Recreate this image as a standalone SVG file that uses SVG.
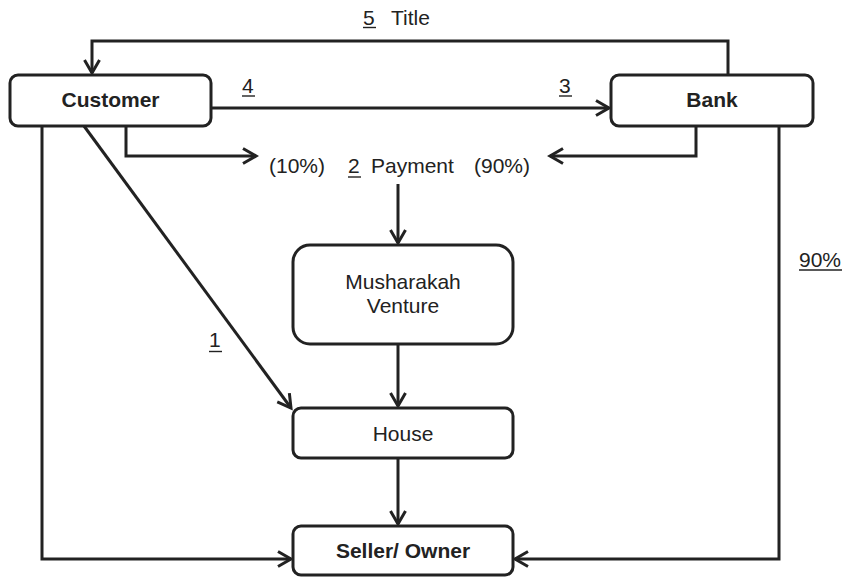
<svg xmlns="http://www.w3.org/2000/svg" width="845" height="577" viewBox="0 0 845 577">
  <style>
    .box { fill: #fff; stroke: #222; stroke-width: 3; }
    .wire { fill: none; stroke: #222; stroke-width: 3; stroke-linejoin: miter; }
    .ul { stroke: #222; stroke-width: 1.4; }
    text { font-family: "Liberation Sans", Arial, sans-serif; font-size: 21px; fill: #222; }
    .b { font-weight: bold; }
    .c { text-anchor: middle; }
  </style>
  <defs>
    <marker id="arr" markerUnits="userSpaceOnUse" markerWidth="20" markerHeight="20" viewBox="-16 -10 18 20" refX="0" refY="0" orient="auto">
      <path d="M-13,-7.5 L0,0 L-13,7.5" fill="none" stroke="#222" stroke-width="3" stroke-linejoin="miter"/>
    </marker>
  </defs>

  <g id="connectors">
    <path class="wire" d="M728,75 V41 H92 V73" marker-end="url(#arr)"/>
    <path class="wire" d="M211,108 H609" marker-end="url(#arr)"/>
    <path class="wire" d="M126,126 V156 H256" marker-end="url(#arr)"/>
    <path class="wire" d="M696,126 V156 H550" marker-end="url(#arr)"/>
    <path class="wire" d="M398,184 V243" marker-end="url(#arr)"/>
    <path class="wire" d="M84,126 L291,408" marker-end="url(#arr)"/>
    <path class="wire" d="M398,344 V406" marker-end="url(#arr)"/>
    <path class="wire" d="M398,458 V524" marker-end="url(#arr)"/>
    <path class="wire" d="M42,126 V559 H291" marker-end="url(#arr)"/>
    <path class="wire" d="M779,126 V559 H515" marker-end="url(#arr)"/>

    <g id="edge-labels">
      <text x="363" y="25">5</text>
      <line class="ul" x1="363" y1="27.5" x2="376" y2="27.5"/>
      <text x="391" y="25">Title</text>

      <text x="242" y="93">4</text>
      <line class="ul" x1="242" y1="96" x2="255" y2="96"/>
      <text x="559" y="93">3</text>
      <line class="ul" x1="559" y1="96" x2="572" y2="96"/>

      <text x="269" y="173">(10%)</text>
      <text x="348" y="173">2</text>
      <line class="ul" x1="348" y1="177" x2="361" y2="177"/>
      <text x="371" y="173">Payment</text>
      <text x="474" y="173">(90%)</text>

      <text x="209" y="347">1</text>
      <line class="ul" x1="209" y1="351.5" x2="222" y2="351.5"/>

      <text x="799" y="267">90%</text>
      <line class="ul" x1="799" y1="270" x2="842" y2="270"/>
    </g>
  </g>

  <g id="customer">
    <rect class="box" x="10" y="75" width="201" height="51" rx="8"/>
    <text class="b c" x="110.5" y="107">Customer</text>
  </g>

  <g id="bank">
    <rect class="box" x="611" y="75" width="202" height="51" rx="8"/>
    <text class="b c" x="712" y="107">Bank</text>
  </g>

  <g id="musharakah-venture">
    <rect class="box" x="293" y="245" width="220" height="99" rx="17"/>
    <text class="c" x="403" y="289">Musharakah</text>
    <text class="c" x="403" y="313">Venture</text>
  </g>

  <g id="house">
    <rect class="box" x="293" y="408" width="220" height="50" rx="8"/>
    <text class="c" x="403" y="441">House</text>
  </g>

  <g id="seller-owner">
    <rect class="box" x="293" y="526" width="220" height="49" rx="8"/>
    <text class="b c" x="403" y="558">Seller/ Owner</text>
  </g>
</svg>
